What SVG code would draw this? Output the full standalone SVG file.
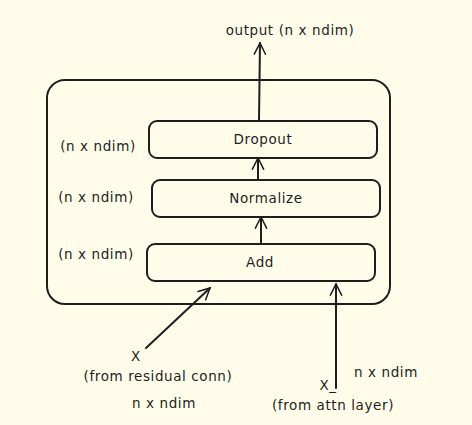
<svg xmlns="http://www.w3.org/2000/svg" width="472" height="425" viewBox="0 0 472 425">
<defs>
<style>
.box{fill:none;stroke:#1e1e1e;stroke-width:2}
.ln{fill:none;stroke:#1e1e1e;stroke-width:2;stroke-linecap:round}
.t{font-family:"DejaVu Sans",Verdana,sans-serif;font-size:13.5px;letter-spacing:0.6px;fill:#1e1e1e;text-anchor:middle}
</style>
<marker id="ah" viewBox="0 0 20 20" refX="18" refY="10" markerWidth="14" markerHeight="14" markerUnits="userSpaceOnUse" orient="auto">
<path d="M2,2 L18,10 L2,18" fill="none" stroke="#1e1e1e" stroke-width="2.2" stroke-linecap="round"/>
</marker>
</defs>
<rect width="472" height="425" fill="#fffdea"/>
<g id="container"><rect class="box" x="47" y="80" width="343" height="224" rx="18"/></g>
<g id="dropout"><rect class="box" x="149" y="121" width="228" height="37" rx="8"/><text class="t" x="263" y="144">Dropout</text></g>
<g id="normalize"><rect class="box" x="152" y="180" width="228" height="37" rx="8"/><text class="t" x="266" y="203">Normalize</text></g>
<g id="add"><rect class="box" x="147" y="244" width="228" height="37" rx="8"/><text class="t" x="260" y="267">Add</text></g>
<g id="labels">
<text class="t" x="98" y="151">(n x ndim)</text>
<text class="t" x="96" y="202">(n x ndim)</text>
<text class="t" x="96" y="259">(n x ndim)</text>
<text class="t" x="290" y="35">output (n x ndim)</text>
<text class="t" x="136" y="361">X</text>
<text class="t" x="158" y="381">(from residual conn)</text>
<text class="t" x="164" y="408">n x ndim</text>
<text class="t" x="328" y="390">X_</text>
<text class="t" x="333" y="410">(from attn layer)</text>
<text class="t" x="386" y="377">n x ndim</text>
</g>
<g id="connectors">
<path class="ln" d="M259,120 L260,43" marker-end="url(#ah)"/>
<path class="ln" d="M258,180 L258,158" marker-end="url(#ah)"/>
<path class="ln" d="M261,244 L261,217" marker-end="url(#ah)"/>
<path class="ln" d="M146,348 L210,288" marker-end="url(#ah)"/>
<path class="ln" d="M336,388 L336,284" marker-end="url(#ah)"/>
</g>
</svg>
